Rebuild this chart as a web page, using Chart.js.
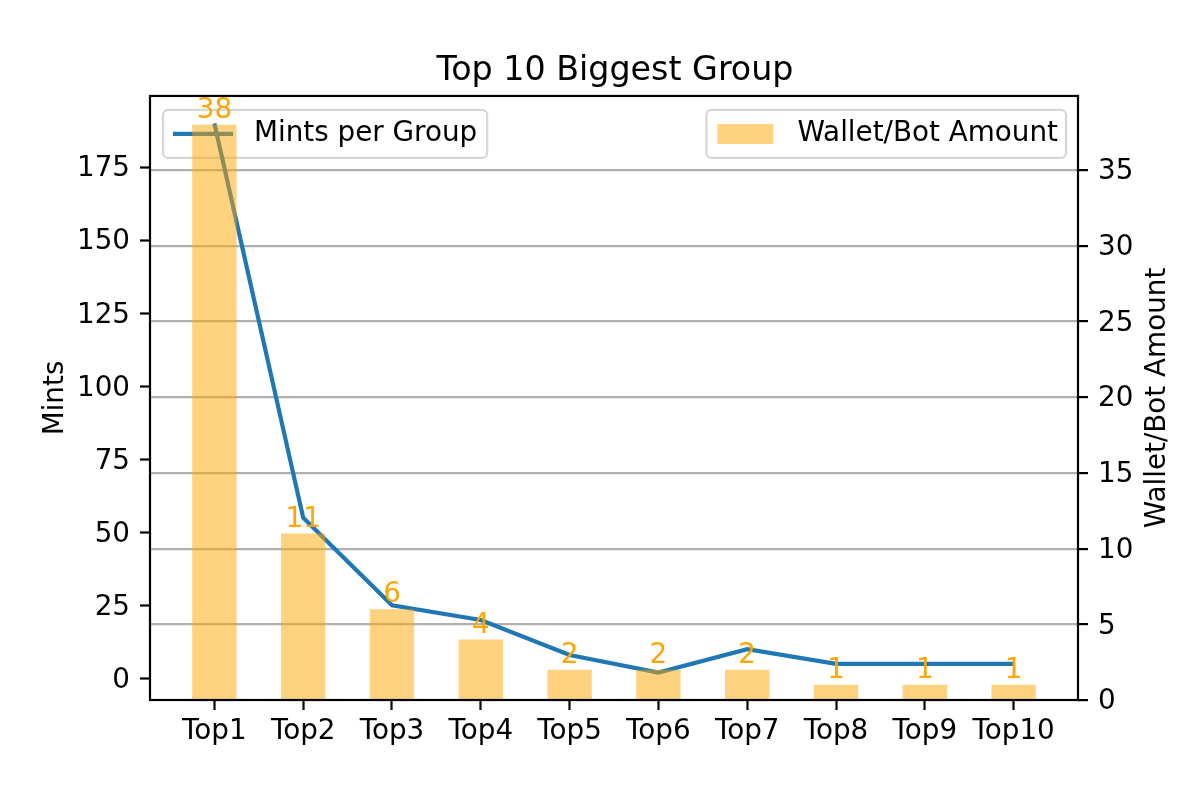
<!DOCTYPE html>
<html>
<head>
<meta charset="utf-8">
<script src="https://cdn.jsdelivr.net/npm/chart.js@4.4.1/dist/chart.umd.min.js"></script>
<style>body{margin:0;background:#fff}</style>
</head>
<body>
<canvas id="groupChart" width="1200" height="800"></canvas>
<script>
var groups = ['Top1', 'Top2', 'Top3', 'Top4', 'Top5', 'Top6', 'Top7', 'Top8', 'Top9', 'Top10'];
var mintsPerGroup = [190, 55, 25, 20, 8, 2, 10, 5, 5, 5];
var walletAmount = [38, 11, 6, 4, 2, 2, 2, 1, 1, 1];
var mintTicks = [0, 25, 50, 75, 100, 125, 150, 175];
var walletTicks = [0, 5, 10, 15, 20, 25, 30, 35];

var FONT = 'DejaVu Sans';
var FS = 27.8;
var lineColor = '#1f77b4';
var barColor = 'rgba(255, 165, 0, 0.5)';

// matplotlib style 5% margins
var mMin = Math.min.apply(null, mintsPerGroup), mMax = Math.max.apply(null, mintsPerGroup);
var mPad = (mMax - mMin) * 0.05;
var wMax = Math.max.apply(null, walletAmount) * 1.05;
var xPad = (groups.length - 0.5) * 0.05;

Chart.defaults.font.family = FONT;
Chart.defaults.font.size = FS;
Chart.defaults.color = '#000';

function legendBox(ctx, x, y, w, h) {
    ctx.beginPath();
    ctx.roundRect(x, y, w, h, 5);
    ctx.fillStyle = 'rgba(255,255,255,0.8)';
    ctx.fill();
    ctx.strokeStyle = 'rgba(204,204,204,0.8)';
    ctx.lineWidth = 2.2;
    ctx.stroke();
}

var extras = {
    id: 'extras',
    beforeDatasetsDraw: function (chart) {
        // legend of the left axis sits below the bars
        var ctx = chart.ctx, ca = chart.chartArea;
        ctx.save();
        ctx.font = FS + 'px "' + FONT + '"';
        var label = chart.data.datasets[1].label;
        var w = 91 + ctx.measureText(label).width + 10;
        var x = ca.left + 13, y = ca.top + 14;
        legendBox(ctx, x, y, w, 48);
        ctx.beginPath();
        ctx.moveTo(x + 10, y + 24);
        ctx.lineTo(x + 70, y + 24);
        ctx.strokeStyle = lineColor;
        ctx.lineWidth = 4.2;
        ctx.stroke();
        ctx.fillStyle = '#000';
        ctx.textBaseline = 'middle';
        ctx.fillText(label, x + 91, y + 24);
        ctx.restore();
    },
    afterDatasetsDraw: function (chart) {
        var ctx = chart.ctx, ca = chart.chartArea;
        ctx.save();
        ctx.font = FS + 'px "' + FONT + '"';

        // values over bars
        var meta = chart.getDatasetMeta(0);
        ctx.fillStyle = '#FFA500';
        ctx.textAlign = 'center';
        ctx.textBaseline = 'bottom';
        meta.data.forEach(function (bar, i) {
            ctx.fillText(String(walletAmount[i]), bar.x, bar.y);
        });

        // frame
        ctx.strokeStyle = '#000';
        ctx.lineWidth = 2.2;
        ctx.strokeRect(ca.left, ca.top, ca.right - ca.left, ca.bottom - ca.top);

        // legend of the right axis
        var label = chart.data.datasets[0].label;
        var w = 91 + ctx.measureText(label).width + 8;
        var x = ca.right - 12 - w, y = ca.top + 14;
        legendBox(ctx, x, y, w, 48);
        ctx.fillStyle = barColor;
        ctx.fillRect(x + 11, y + 14, 56, 20);
        ctx.fillStyle = '#000';
        ctx.textAlign = 'left';
        ctx.textBaseline = 'middle';
        ctx.fillText(label, x + 91, y + 24);

        // right axis title, reading bottom to top
        ctx.translate(1158, (ca.top + ca.bottom) / 2);
        ctx.rotate(-Math.PI / 2);
        ctx.textAlign = 'center';
        ctx.fillText('Wallet/Bot Amount', 0, 0);
        ctx.restore();
    }
};

var ctx = document.getElementById('groupChart').getContext('2d');
var groupChart = new Chart(ctx, {
    type: 'bar',
    data: {
        datasets: [
            {
                label: 'Wallet/Bot Amount',
                data: groups.map(function (g, i) { return { x: i, y: walletAmount[i] }; }),
                backgroundColor: barColor,
                borderWidth: 0,
                barPercentage: 0.5,
                categoryPercentage: 1,
                yAxisID: 'yRight',
                order: 0
            },
            {
                type: 'line',
                label: 'Mints per Group',
                data: groups.map(function (g, i) { return { x: i, y: mintsPerGroup[i] }; }),
                borderColor: lineColor,
                borderWidth: 4.2,
                pointRadius: 0,
                tension: 0,
                fill: false,
                yAxisID: 'yLeft',
                order: 1
            }
        ]
    },
    options: {
        responsive: false,
        animation: false,
        devicePixelRatio: 1,
        // left padding keeps the title centred over the plot, as in matplotlib
        layout: { padding: { left: 30, right: 0, top: 0, bottom: 0 } },
        plugins: {
            legend: { display: false },
            tooltip: { enabled: false },
            title: {
                display: true,
                text: 'Top 10 Biggest Group',
                font: { size: 33.3, weight: 'normal' },
                color: '#000',
                padding: { top: 51, bottom: 5 }
            }
        },
        scales: {
            x: {
                type: 'linear',
                offset: false,
                min: -0.25 - xPad,
                max: groups.length - 0.75 + xPad,
                afterBuildTicks: function (s) { s.ticks = groups.map(function (g, i) { return { value: i }; }); },
                afterFit: function (s) { s.height = 100; },
                ticks: {
                    padding: 5,
                    autoSkip: false,
                    maxRotation: 0,
                    callback: function (v) { return groups[v]; }
                },
                grid: { display: true, offset: false, drawOnChartArea: false, tickLength: 10, tickColor: '#000', tickWidth: 2.2 },
                border: { display: false }
            },
            yLeft: {
                type: 'linear',
                position: 'left',
                min: mMin - mPad,
                max: mMax + mPad,
                afterBuildTicks: function (s) { s.ticks = mintTicks.map(function (v) { return { value: v }; }); },
                afterFit: function (s) { s.width = 120; },
                ticks: { padding: 10, labelOffset: 2 },
                grid: { display: true, drawOnChartArea: false, tickLength: 10, tickColor: '#000', tickWidth: 2.2 },
                border: { display: false },
                title: { display: true, text: 'Mints', padding: { top: 9 } }
            },
            yRight: {
                type: 'linear',
                position: 'right',
                min: 0,
                max: wMax,
                afterBuildTicks: function (s) { s.ticks = walletTicks.map(function (v) { return { value: v }; }); },
                afterFit: function (s) { s.width = 122; },
                ticks: { padding: 10, labelOffset: 2 },
                grid: {
                    display: true,
                    color: function (c) { return c.tick && c.tick.value === 0 ? 'rgba(0,0,0,0)' : '#b0b0b0'; },
                    lineWidth: 2.2,
                    tickLength: 10,
                    tickColor: '#000',
                    tickWidth: 2.2
                },
                border: { display: false }
            }
        }
    },
    plugins: [extras]
});
</script>
</body>
</html>
